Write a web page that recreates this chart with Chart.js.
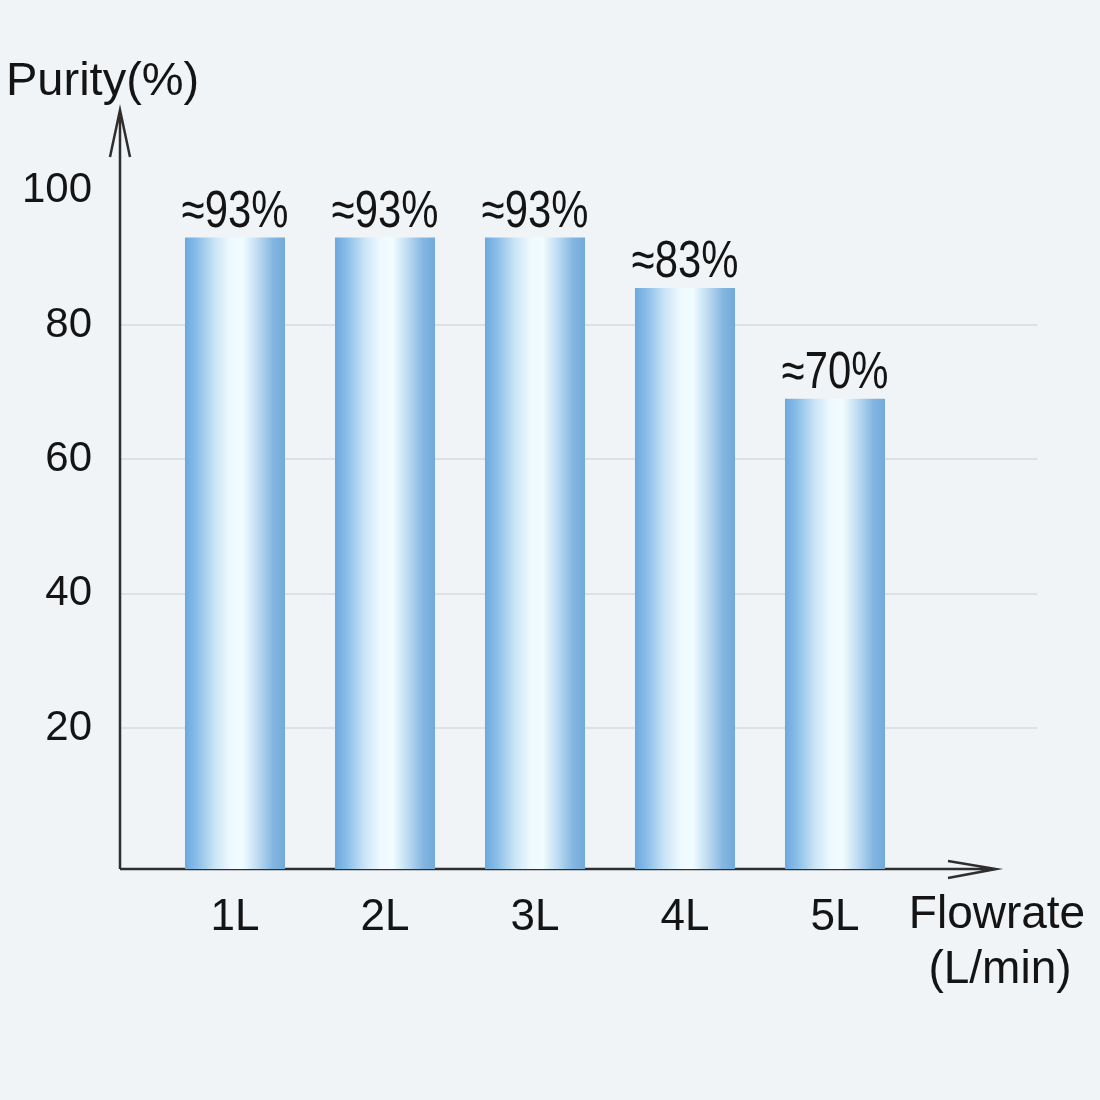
<!DOCTYPE html>
<html lang="en">
<head>
    <meta charset="UTF-8">
    <title>Purity vs Flowrate</title>
    <script src="https://cdn.jsdelivr.net/npm/chart.js"></script>
    <style>
        html, body { margin: 0; padding: 0; background: #f1f4f7; }
        canvas { display: block; }
    </style>
</head>
<body>
    <canvas id="myChart" width="1100" height="1100"></canvas>
    <script>
        // data
        const flowrates = ['1L', '2L', '3L', '4L', '5L'];
        const purity = [93, 93, 93, 85.5, 69];
        const purityText = ['≈93%', '≈93%', '≈93%', '≈83%', '≈70%'];
        const yTicks = [20, 40, 60, 80, 100];

        const FONT = "'Liberation Sans', Arial, sans-serif";
        const INK = '#141414';

        function barFill(context) {
            const chart = context.chart;
            const xs = chart.scales.x;
            if (!chart.chartArea || !xs) return '#8ec0e8';
            const cx = xs.getPixelForValue(context.dataIndex);
            const half = xs.width / flowrates.length * 0.667 / 2;
            const g = chart.ctx.createLinearGradient(cx - half, 0, cx + half, 0);
            g.addColorStop(0, '#6ca8de');
            g.addColorStop(0.12, '#8abee8');
            g.addColorStop(0.3, '#cbe5f6');
            g.addColorStop(0.45, '#edf9fe');
            g.addColorStop(0.58, '#f0fcff');
            g.addColorStop(0.72, '#c0ddf2');
            g.addColorStop(0.88, '#84b6e1');
            g.addColorStop(1, '#72aada');
            return g;
        }

        const axesPlugin = {
            id: 'axesPlugin',
            beforeDatasetsDraw(chart) {
                const ctx = chart.ctx;
                const y = chart.scales.y;
                const area = chart.chartArea;
                const ox = 120;
                const oy = area.bottom;
                ctx.save();
                // grid lines
                ctx.strokeStyle = '#dde0e4';
                ctx.lineWidth = 2;
                yTicks.slice(0, 4).forEach(v => {
                    const py = Math.round(y.getPixelForValue(v));
                    ctx.beginPath();
                    ctx.moveTo(ox, py);
                    ctx.lineTo(1037, py);
                    ctx.stroke();
                });
                // axes with open arrows
                ctx.strokeStyle = '#2e2e2e';
                ctx.lineWidth = 2.5;
                ctx.beginPath();
                ctx.moveTo(ox, oy);
                ctx.lineTo(ox, area.top);
                ctx.moveTo(ox - 10, area.top + 47);
                ctx.lineTo(ox, area.top);
                ctx.lineTo(ox + 10, area.top + 47);
                ctx.moveTo(ox, oy);
                ctx.lineTo(996, oy);
                ctx.moveTo(948, oy - 8);
                ctx.lineTo(996, oy);
                ctx.lineTo(948, oy + 9);
                ctx.stroke();
                ctx.restore();
            },
            afterDraw(chart) {
                const ctx = chart.ctx;
                const meta = chart.getDatasetMeta(0);
                ctx.save();
                ctx.fillStyle = INK;
                ctx.textAlign = 'center';
                ctx.textBaseline = 'alphabetic';
                meta.data.forEach((bar, i) => {
                    ctx.save();
                    ctx.translate(bar.x, bar.y - 11);
                    ctx.scale(0.82, 1);
                    ctx.font = '51px ' + FONT;
                    ctx.fillText(purityText[i], 0, 0);
                    ctx.restore();
                });
                // axis titles
                ctx.font = '47px ' + FONT;
                ctx.textAlign = 'left';
                ctx.fillText('Purity(%)', 6, 95);
                ctx.textAlign = 'center';
                ctx.font = '46px ' + FONT;
                ctx.fillText('Flowrate', 997, 928);
                ctx.fillText('(L/min)', 1000, 983);
                ctx.restore();
            }
        };

        const ctx = document.getElementById('myChart').getContext('2d');
        const myChart = new Chart(ctx, {
            type: 'bar',
            data: {
                labels: flowrates,
                datasets: [{
                    label: 'Purity',
                    data: purity,
                    base: -1,
                    backgroundColor: barFill,
                    borderWidth: 0,
                    barPercentage: 0.667,
                    categoryPercentage: 1
                }]
            },
            options: {
                responsive: false,
                animation: false,
                layout: { padding: { left: 0, right: 190, top: 110, bottom: 0 } },
                plugins: {
                    legend: { display: false },
                    tooltip: { enabled: false }
                },
                scales: {
                    x: {
                        grid: { display: false },
                        border: { display: false },
                        ticks: { color: INK, font: { size: 44, family: FONT }, padding: 14 },
                        afterFit(scale) { scale.height = 231; }
                    },
                    y: {
                        min: -1,
                        max: 112,
                        grid: { display: false },
                        border: { display: false },
                        afterBuildTicks(scale) {
                            scale.ticks = yTicks.map(v => ({ value: v }));
                        },
                        afterFit(scale) { scale.width = 160; },
                        ticks: { color: INK, font: { size: 42, family: FONT }, padding: 60 }
                    }
                }
            },
            plugins: [axesPlugin]
        });
    </script>
</body>
</html>
